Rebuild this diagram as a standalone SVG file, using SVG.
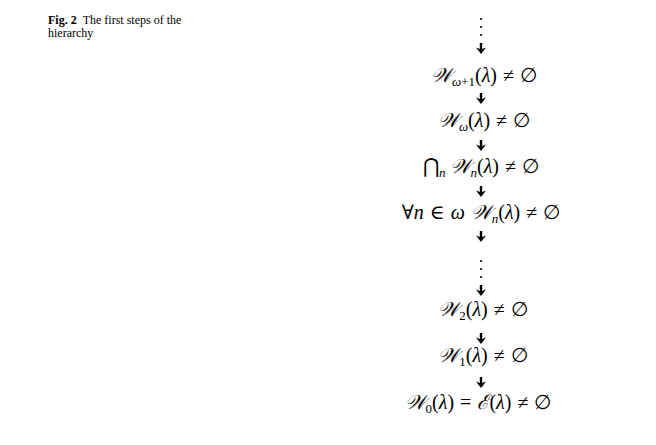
<svg xmlns="http://www.w3.org/2000/svg" width="656" height="445" viewBox="0 0 656 445">
<style>
.cap{font-family:"Liberation Serif",serif;font-size:12px;fill:#000}
.m{font-family:"Liberation Serif","DejaVu Serif",serif;font-size:20px;fill:#000;text-anchor:middle}
.i{font-style:italic}
.s{font-size:13px}
.dot{fill:#000}
</style>
<defs>
<g id="arr"><path d="M-1.2,-11 L1.2,-11 L1.2,-5 L5,-6.5 L0,0 L-5,-6.5 L-1.2,-5 Z" fill="#000"/></g>
</defs>
<rect width="656" height="445" fill="#fff"/>
<g id="caption">
<text class="cap" x="48" y="24"><tspan font-weight="bold">Fig. 2</tspan><tspan dx="6">The first steps of the</tspan></text>
<text class="cap" x="48" y="37">hierarchy</text>
</g>
<g id="connectors">
<circle class="dot" cx="481" cy="19" r="1.1"/>
<circle class="dot" cx="481" cy="27" r="1.1"/>
<circle class="dot" cx="481" cy="35" r="1.1"/>
<use href="#arr" x="481" y="54"/>
<use href="#arr" x="481" y="104"/>
<use href="#arr" x="481" y="151"/>
<use href="#arr" x="481" y="197"/>
<use href="#arr" x="481" y="242"/>
<circle class="dot" cx="481" cy="261" r="1.1"/>
<circle class="dot" cx="481" cy="269" r="1.1"/>
<circle class="dot" cx="481" cy="277" r="1.1"/>
<use href="#arr" x="481" y="296"/>
<use href="#arr" x="481" y="344"/>
<use href="#arr" x="481" y="388"/>
</g>
<g id="n-wom1"><text class="m" x="484" y="82"><tspan class="i">𝒲</tspan><tspan class="s i" dy="4">ω</tspan><tspan class="s">+1</tspan><tspan dy="-4">(</tspan><tspan class="i">λ</tspan>)<tspan dx="6">≠</tspan><tspan dx="6">∅</tspan></text></g>
<g id="n-wom"><text class="m" x="484" y="127"><tspan class="i">𝒲</tspan><tspan class="s i" dy="4">ω</tspan><tspan dy="-4">(</tspan><tspan class="i">λ</tspan>)<tspan dx="6">≠</tspan><tspan dx="6">∅</tspan></text></g>
<g id="n-cap"><text class="m" x="481" y="173"><tspan>⋂</tspan><tspan class="s i" dy="4">n</tspan><tspan class="i" dy="-4" dx="4">𝒲</tspan><tspan class="s i" dy="4">n</tspan><tspan dy="-4">(</tspan><tspan class="i">λ</tspan>)<tspan dx="6">≠</tspan><tspan dx="6">∅</tspan></text></g>
<g id="n-all"><text class="m" x="481" y="219">∀<tspan class="i">n</tspan><tspan dx="6">∈</tspan><tspan class="i" dx="6">ω</tspan><tspan class="i" dx="6">𝒲</tspan><tspan class="s i" dy="4">n</tspan><tspan dy="-4">(</tspan><tspan class="i">λ</tspan>)<tspan dx="6">≠</tspan><tspan dx="6">∅</tspan></text></g>
<g id="n-w2"><text class="m" x="483" y="316"><tspan class="i">𝒲</tspan><tspan class="s" dy="4">2</tspan><tspan dy="-4">(</tspan><tspan class="i">λ</tspan>)<tspan dx="6">≠</tspan><tspan dx="6">∅</tspan></text></g>
<g id="n-w1"><text class="m" x="483" y="362"><tspan class="i">𝒲</tspan><tspan class="s" dy="4">1</tspan><tspan dy="-4">(</tspan><tspan class="i">λ</tspan>)<tspan dx="6">≠</tspan><tspan dx="6">∅</tspan></text></g>
<g id="n-w0"><text class="m" x="478" y="409"><tspan class="i">𝒲</tspan><tspan class="s" dy="4">0</tspan><tspan dy="-4">(</tspan><tspan class="i">λ</tspan>)<tspan dx="6">=</tspan><tspan class="i" dx="6">ℰ</tspan>(<tspan class="i">λ</tspan>)<tspan dx="6">≠</tspan><tspan dx="6">∅</tspan></text></g>
</svg>
